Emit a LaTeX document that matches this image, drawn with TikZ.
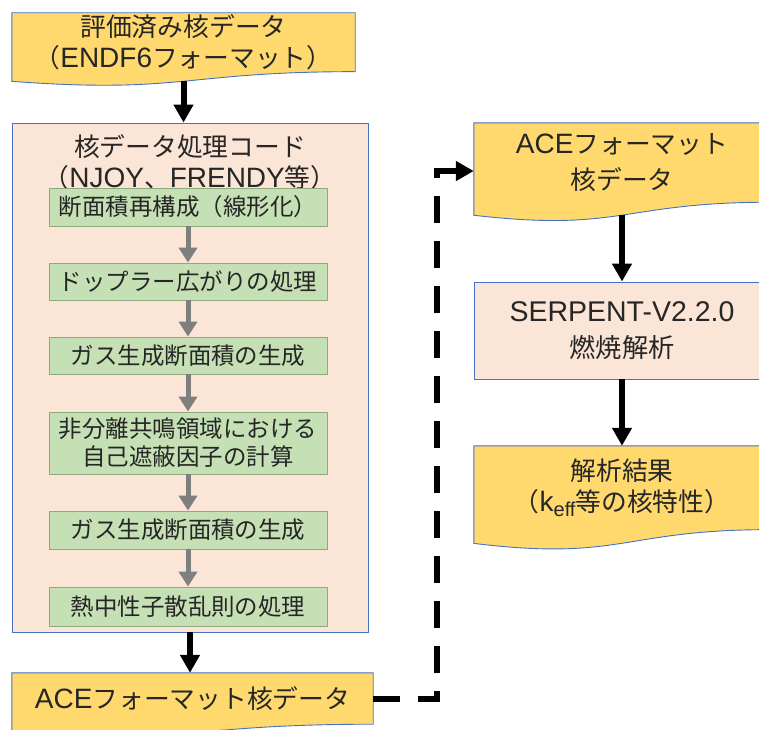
\documentclass[tikz,border=0pt]{standalone}
\usepackage{fontspec}
\setmainfont{Liberation Sans}
\newfontfamily\jp[Scale=0.92]{Noto Sans CJK JP}
\newcommand{\J}[1]{{\jp #1}}
\usetikzlibrary{arrows.meta,calc,backgrounds}

\definecolor{docfill}{HTML}{FFD96E}
\definecolor{docedge}{HTML}{4472C4}
\definecolor{procfill}{HTML}{FBE5D6}
\definecolor{stepfill}{HTML}{C5E0B4}
\definecolor{stepedge}{HTML}{8FA97E}
\definecolor{stepgray}{HTML}{7F7F7F}

% wavy bottom of a document box, drawn round a node
\newcommand{\docwave}[1]{%
  \draw[docline] (#1.north west) -- (#1.north east) -- (#1.south east)
    .. controls (#1.south) and ($(#1.south)!-0.38!(#1.north)$)
    .. ($(#1.south west)!-0.1646!(#1.north west)$) -- cycle;
  \coordinate (#1-b) at ($(#1.south)!-0.1633!(#1.north)$);
}

\tikzset{
  doctext/.style={align=center, inner sep=0pt, text=black!85,
    font=\fontsize{28}{31}\selectfont},
  docline/.style={draw=docedge, fill=docfill, line width=0.9pt},
  procbox/.style={draw=docedge, fill=procfill, line width=0.9pt, inner sep=0pt},
  stepbox/.style={draw=stepedge, fill=stepfill, line width=0.9pt,
    minimum width=278pt, inner sep=0pt, align=center, text=black!85,
    font=\fontsize{25.5}{28}\selectfont},
  mainarrow/.style={-{Triangle[width=19pt,length=18pt]}, line width=6pt},
  steparrow/.style={-{Triangle[width=18pt,length=15pt]}, line width=5pt, draw=stepgray, fill=stepgray},
  linkarrow/.style={mainarrow, dash pattern=on 27pt off 18pt},
}

\begin{document}
\begin{tikzpicture}[x=1pt,y=-1pt]
\useasboundingbox (0,0) rectangle (759,729);

% left column
\node[doctext, minimum width=343pt, minimum height=58.5pt] (endf) at (183.5,42.2)
  {\J{評価済み核データ}\\\J{（}ENDF6\J{フォーマット）}};
\node[procbox, minimum width=356pt, minimum height=509pt] (proc) at (190,377.5) {};
\node[doctext] (proctitle) at (190,162)
  {\J{核データ処理コード}\\\J{（}NJOY\J{、}FRENDY\J{等）}};
\node[stepbox, minimum height=38pt] (s1) at (188,207) {\J{断面積再構成（線形化）}};
\node[stepbox, minimum height=37pt] (s2) at (188,281.5) {\J{ドップラー広がりの処理}};
\node[stepbox, minimum height=37pt] (s3) at (188,355.5) {\J{ガス生成断面積の生成}};
\node[stepbox, minimum height=62pt] (s4) at (188,443)
  {\J{非分離共鳴領域における}\\\J{自己遮蔽因子の計算}};
\node[stepbox, minimum height=38pt] (s5) at (188,530) {\J{ガス生成断面積の生成}};
\node[stepbox, minimum height=39pt] (s6) at (188,606.5) {\J{熱中性子散乱則の処理}};
\node[doctext, minimum width=361pt, minimum height=51pt] (acel) at (192.5,698.5)
  {ACE\J{フォーマット核データ}};

% right column
\node[doctext, font=\fontsize{28}{36}\selectfont, minimum width=296pt, minimum height=79pt]
  (acer) at (622,162.5) {ACE\J{フォーマット}\\\J{核データ}};
\node[procbox, doctext, font=\fontsize{28.5}{36}\selectfont, minimum width=296pt, minimum height=97pt]
  (serp) at (622,330.5) {SERPENT-V2.2.0\\\J{燃焼解析}};
\node[doctext, minimum width=296pt, minimum height=83.4pt] (result) at (622,487.7)
  {\J{解析結果}\\\J{（}k\raisebox{-5pt}{\fontsize{20}{20}\selectfont eff}\J{等の核特性）}};

\begin{pgfonlayer}{background}
  \docwave{endf}
  \docwave{acel}
  \docwave{acer}
  \docwave{result}
\end{pgfonlayer}

% connectors
\draw[mainarrow] (endf-b) -- (endf-b |- proc.north);
\foreach \a/\b in {s1/s2,s2/s3,s3/s4,s4/s5,s5/s6}
  \draw[steparrow] (\a) -- (\b);
\draw[mainarrow] (proc.south) -- (proc.south |- acel.north);
\draw[linkarrow] (acel.east) -- ++(64,0) |- ([yshift=-8.5pt]acer.west);
\draw[mainarrow] (acer-b) -- (acer-b |- serp.north);
\draw[mainarrow] (serp.south) -- (result.north);
\end{tikzpicture}
\end{document}
